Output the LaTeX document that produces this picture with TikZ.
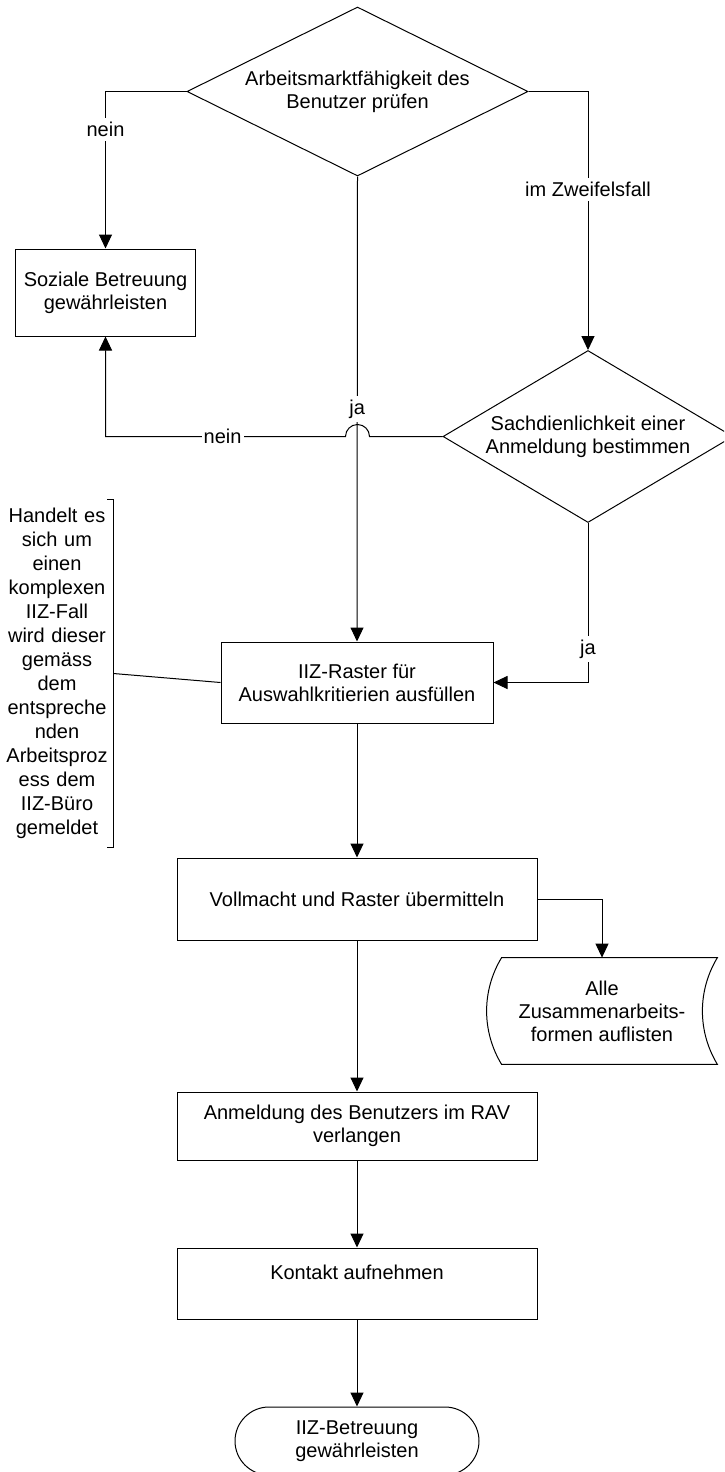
\documentclass[tikz,border=0pt]{standalone}
\usepackage{fontspec}
\setmainfont{Liberation Sans}
\usetikzlibrary{arrows.meta,shapes.geometric,calc}
\begin{document}
\begin{tikzpicture}[x=0.5pt,y=-0.5pt,
  every node/.style={font=\fontsize{10pt}{11.5pt}\selectfont},
  box/.style={draw, line width=0.5pt, rectangle, inner sep=0pt, align=center},
  dec/.style={draw, line width=0.5pt, diamond, aspect=2, inner sep=0pt, align=center},
  conn/.style={line width=0.5pt, -{Triangle[length=7pt,width=6.5pt]}},
  plain/.style={line width=0.5pt},
  lbl/.style={fill=white, inner xsep=1pt, inner ysep=2pt}]
\useasboundingbox (0,0) rectangle (724,1472);
\fill[white] (0,0) rectangle (724,1472);
\clip (0,0) rectangle (724,1472);

\node[dec, minimum width=170.5pt, minimum height=84.5pt] (d1) at (357.5,91.5) {Arbeitsmarktfähigkeit des\\Benutzer prüfen};
\node[box, minimum width=90pt, minimum height=43.5pt] (soz) at (105.5,292.5) {Soziale Betreuung\\gewährleisten};
\node[dec, minimum width=145pt, minimum height=86pt] (d2) at (588,436.5) {Sachdienlichkeit einer\\Anmeldung bestimmen};
\node[box, minimum width=136pt, minimum height=40.5pt] (iiz) at (357,682.5) {IIZ-Raster für\\Auswahlkritierien ausfüllen};
\node[align=center, text width=53pt, inner xsep=1.5pt, inner ysep=0pt, minimum height=173.5pt, font=\fontsize{10pt}{12pt}\selectfont] (note) at (57,673.5) {Handelt es\\sich um\\einen\\komplexen\\IIZ-Fall\\wird dieser\\gemäss\\dem\\entspreche\\nden\\Arbeitsproz\\ess dem\\IIZ-Büro\\gemeldet};
\node[box, minimum width=180pt, minimum height=41pt] (voll) at (357,899) {Vollmacht und Raster übermitteln};
\node[align=center, minimum width=115pt, minimum height=53pt, inner sep=0pt] (alle) at (602,1011) {Alle\\Zusammenarbeits-\\formen auflisten};
\draw[plain] ($(alle.north west)+(15,0)$) -- (alle.north east)
  .. controls ($(alle.north east)+(-20,33)$) and ($(alle.south east)+(-20,-33)$) .. (alle.south east)
  -- ($(alle.south west)+(15,0)$)
  .. controls ($(alle.south west)+(-5,-33)$) and ($(alle.north west)+(-5,33)$) .. ($(alle.north west)+(15,0)$) -- cycle;
\node[box, minimum width=180pt, minimum height=34pt] (anm) at (357,1126) {Anmeldung des Benutzers im RAV\\verlangen};
\node[box, minimum width=180pt, minimum height=35.5pt, text height=7pt, text depth=11.5pt] (kon) at (357,1283.5) {Kontakt aufnehmen};
\node[box, rounded corners=17pt, minimum width=122pt, minimum height=34pt] (term) at (357,1441) {IIZ-Betreuung\\gewährleisten};

\draw[conn] (d1.west) -| node[lbl, pos=0.62] {nein} (soz.north);
\draw[conn] (d1.east) -| node[lbl, pos=0.69] {im Zweifelsfall} (d2.north);
\draw[conn] (d1.south) -- node[lbl] {ja} (iiz.north);
\coordinate (cross) at (d1.south |- d2.west);
\draw[conn] (d2.west) -- ([xshift=6pt]cross) arc[start angle=0, end angle=180, radius=6pt] -| node[lbl, pos=0.256] {nein} (soz.south);
\draw[conn] (d2.south) |- node[lbl, pos=0.395] {ja} (iiz.east);
\draw[plain] (note.east) -- (iiz.west);
\draw[plain] ([xshift=-3pt]note.north east) -- (note.north east) -- (note.south east) -- ([xshift=-3pt]note.south east);
\draw[conn] (iiz.south) -- (voll.north);
\draw[conn] (voll.east) -| (alle.north);
\draw[conn] (voll.south) -- (anm.north);
\draw[conn] (anm.south) -- (kon.north);
\draw[conn] (kon.south) -- (term.north);
\end{tikzpicture}
\end{document}
